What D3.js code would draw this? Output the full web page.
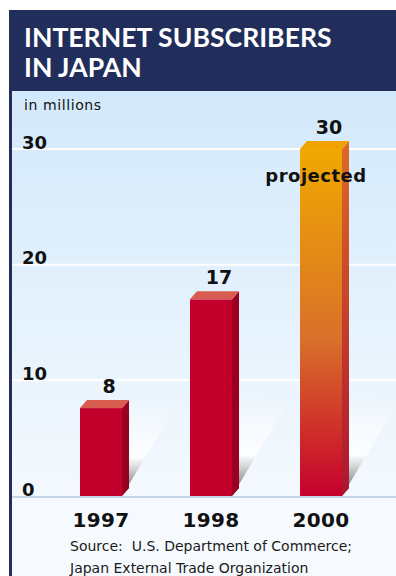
<!DOCTYPE html>
<html>
<head>
<meta charset="utf-8">
<script src="https://cdn.jsdelivr.net/npm/d3@7"></script>
<style>
  body { margin: 0; background: #fff; }
  text { font-family: "DejaVu Sans", sans-serif; white-space: pre; }
</style>
</head>
<body>
<div id="target"></div>
<script>
// data
const years = ["1997", "1998", "2000"];
const subscribers = [7.6, 17, 30];
const projected = [false, false, true];
const yTicks = [0, 10, 20, 30];
const sourceLines = ["Source:  U.S. Department of Commerce;", "Japan External Trade Organization"];

const W = 396, H = 576;
const margin = {top: 91, left: 12},
  y0 = 496;

let svg = d3.select("#target").append("svg")
  .attr("width", W)
  .attr("height", H);

let defs = svg.append("defs");

let bg = defs.append("linearGradient").attr("id", "bg")
  .attr("x1", 0).attr("y1", 0).attr("x2", 0).attr("y2", 1);
bg.append("stop").attr("offset", "0%").attr("stop-color", "#d2e9fb");
bg.append("stop").attr("offset", "100%").attr("stop-color", "#f4f9fe");

let proj = defs.append("linearGradient").attr("id", "proj")
  .attr("x1", 0).attr("y1", 0).attr("x2", 0).attr("y2", 1);
proj.append("stop").attr("offset", "0%").attr("stop-color", "#f0a900");
proj.append("stop").attr("offset", "55%").attr("stop-color", "#d9702a");
proj.append("stop").attr("offset", "100%").attr("stop-color", "#c6002c");

let projSide = defs.append("linearGradient").attr("id", "projSide")
  .attr("x1", 0).attr("y1", 0).attr("x2", 0).attr("y2", 1);
projSide.append("stop").attr("offset", "0%").attr("stop-color", "#dc6a25");
projSide.append("stop").attr("offset", "100%").attr("stop-color", "#ad1530");

let shadow = defs.append("linearGradient").attr("id", "shadow")
  .attr("x1", 0).attr("y1", 1).attr("x2", 0).attr("y2", 0);
shadow.append("stop").attr("offset", "0%").attr("stop-color", "#4f4f4f").attr("stop-opacity", 0.95);
shadow.append("stop").attr("offset", "40%").attr("stop-color", "#ffffff").attr("stop-opacity", 0.8);
shadow.append("stop").attr("offset", "100%").attr("stop-color", "#ffffff").attr("stop-opacity", 0);

// panel
svg.append("rect")
  .attr("x", margin.left).attr("y", margin.top)
  .attr("width", W - margin.left).attr("height", y0 - margin.top)
  .attr("fill", "url(#bg)");
svg.append("rect")
  .attr("x", margin.left).attr("y", y0)
  .attr("width", W - margin.left).attr("height", H - y0)
  .attr("fill", "#f6fafe");

// title band
svg.append("rect")
  .attr("x", 9).attr("y", 10)
  .attr("width", W - 9).attr("height", margin.top - 10)
  .attr("fill", "#212e5c");
svg.append("rect")
  .attr("x", 9).attr("y", 10)
  .attr("width", 3).attr("height", H - 10)
  .attr("fill", "#212e5c");

svg.selectAll(".title")
  .data(["INTERNET SUBSCRIBERS", "IN JAPAN"])
  .join("text")
  .attr("x", 24).attr("y", (d, i) => 47 + i * 30)
  .attr("fill", "#fff").attr("font-size", 26.6).attr("font-weight", "bold")
  .style("font-family", "Lato, sans-serif")
  .text(d => d);
svg.append("text").attr("x", 24).attr("y", 110)
  .attr("fill", "#111").attr("font-size", 14).attr("letter-spacing", 0.6)
  .text("in millions");

let x = d3.scaleBand()
  .domain(years)
  .range([47, 375])
  .paddingInner(0.618)
  .paddingOuter(0.3);

let y = d3.scaleLinear()
  .domain([0, 30])
  .range([y0, 149]);

// grid
let grid = svg.append("g");
grid.selectAll("line")
  .data(yTicks.filter(d => d > 0))
  .join("line")
  .attr("x1", margin.left).attr("x2", W)
  .attr("y1", d => y(d)).attr("y2", d => y(d))
  .attr("stroke", "#fff").attr("stroke-width", 2);

let yAxis = svg.append("g")
  .attr("transform", `translate(${margin.left},0)`)
  .call(d3.axisLeft(y).tickValues(yTicks).tickSize(0).tickPadding(-10));
yAxis.select(".domain").remove();
yAxis.selectAll("text")
  .attr("text-anchor", "start")
  .attr("dy", "0")
  .attr("y", -1)
  .attr("fill", "#111")
  .attr("font-family", "DejaVu Sans")
  .attr("font-size", 18)
  .attr("font-weight", "bold");

const dx = 7, dy = 8, shH = 95;
const bars = years.map((yr, i) => ({year: yr, value: subscribers[i], proj: projected[i]}));

// shadows
svg.append("g").selectAll("path")
  .data(bars)
  .join("path")
  .attr("d", d => {
    let sx = x(d.year) + x.bandwidth() + dx;
    let top = Math.max(y(d.value), y0 - shH);
    let h = y0 - top;
    return `M${sx - dx},${y0} L${sx - dx + 0.6 * h},${top} L${sx},${top - dy} L${sx},${y0 - dy}Z`;
  })
  .attr("fill", "url(#shadow)");

// baseline
svg.append("line")
  .attr("x1", margin.left).attr("x2", W)
  .attr("y1", y0 + 1).attr("y2", y0 + 1)
  .attr("stroke", "#c3d7e6").attr("stroke-width", 2);

let g = svg.append("g").selectAll("g")
  .data(bars)
  .join("g");

// front
g.append("rect")
  .attr("x", d => x(d.year))
  .attr("y", d => y(d.value))
  .attr("width", x.bandwidth())
  .attr("height", d => y0 - y(d.value))
  .attr("fill", d => d.proj ? "url(#proj)" : "#c2002b");
// side
g.append("path")
  .attr("d", d => {
    let r = x(d.year) + x.bandwidth(), t = y(d.value);
    return `M${r},${t} L${r + dx},${t - dy} L${r + dx},${y0 - dy} L${r},${y0}Z`;
  })
  .attr("fill", d => d.proj ? "url(#projSide)" : "#9c0021");
// top
g.append("path")
  .attr("d", d => {
    let l = x(d.year), r = l + x.bandwidth(), t = y(d.value);
    return `M${l},${t} L${l + dx},${t - dy} L${r + dx},${t - dy} L${r},${t}Z`;
  })
  .attr("fill", d => d.proj ? "#f0a300" : "#d85d50");

// value labels
g.append("text")
  .attr("x", d => x(d.year) + x.bandwidth() / 2 + 8)
  .attr("y", d => y(d.value) - dy - 7)
  .attr("text-anchor", "middle")
  .attr("font-size", 19).attr("font-weight", "bold").attr("fill", "#111")
  .text(d => Math.round(d.value));

g.filter(d => d.proj).append("text")
  .attr("x", d => x(d.year) + x.bandwidth() / 2 - 5)
  .attr("y", d => y(d.value) + 33)
  .attr("text-anchor", "middle")
  .attr("font-size", 18).attr("font-weight", "bold").attr("fill", "#111")
  .attr("letter-spacing", 0.5)
  .text("projected");

// x axis
let xAxis = svg.append("g")
  .attr("transform", `translate(0,${y0})`)
  .call(d3.axisBottom(x).tickSize(0));
xAxis.select(".domain").remove();
xAxis.selectAll("text")
  .attr("dy", "0")
  .attr("y", 31)
  .attr("fill", "#111")
  .attr("font-family", "DejaVu Sans")
  .attr("font-size", 20)
  .attr("font-weight", "bold")
  .attr("letter-spacing", 0.3);

svg.append("g").selectAll("text")
  .data(sourceLines)
  .join("text")
  .attr("x", 70)
  .attr("y", (d, i) => 551 + i * 22)
  .attr("font-size", 14).attr("fill", "#1a1a1a")
  .text(d => d);
</script>
</body>
</html>
